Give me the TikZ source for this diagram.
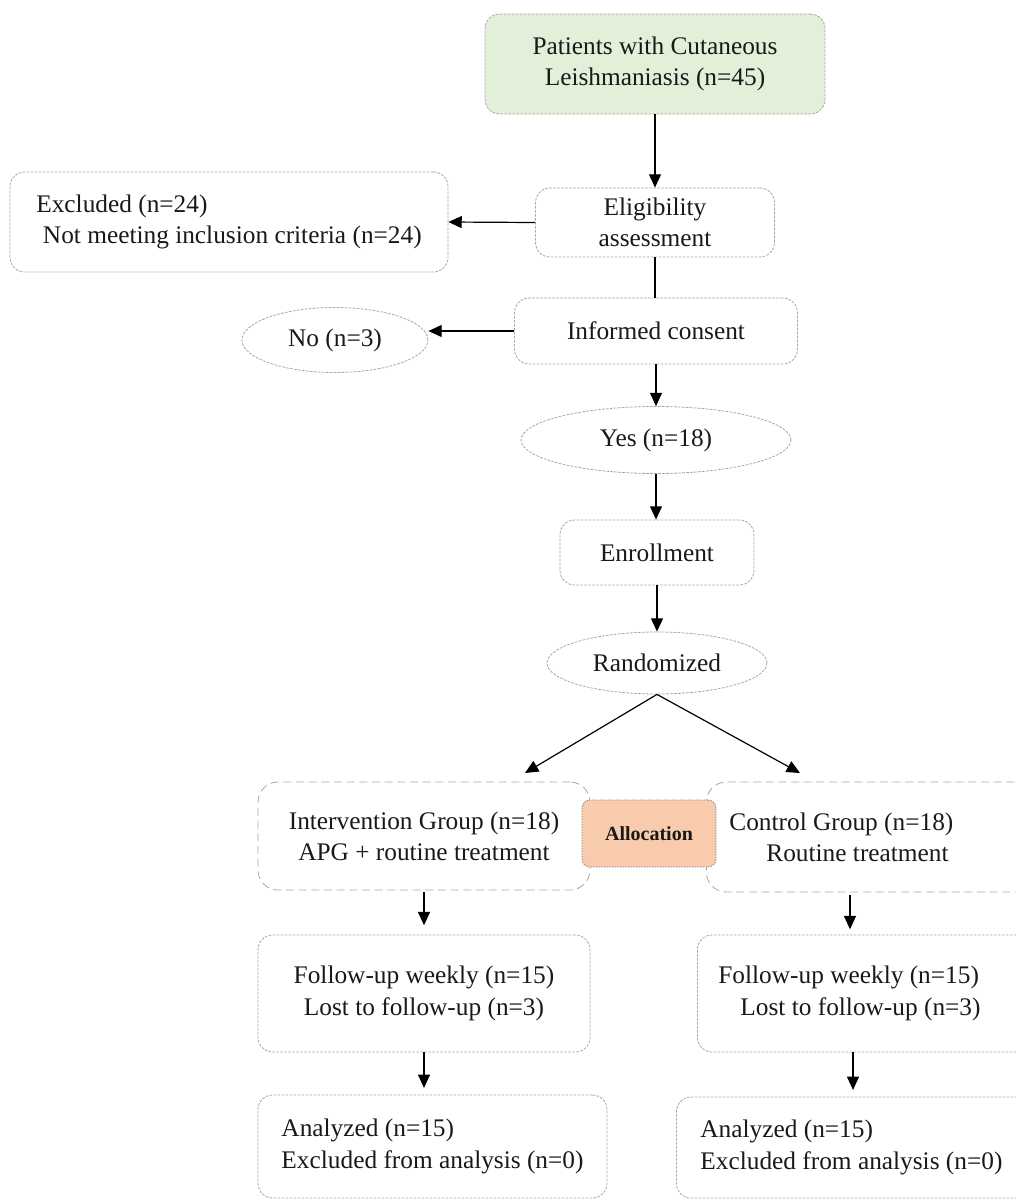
\documentclass[tikz,border=0pt]{standalone}
\usepackage{fontspec}
\setmainfont{Liberation Serif}
\usetikzlibrary{shapes.geometric,arrows.meta}
\definecolor{bordergray}{HTML}{A6A6A6}
\definecolor{greenfill}{HTML}{E2EFD9}
\definecolor{peach}{HTML}{F8CBAD}
\begin{document}
\begin{tikzpicture}[x=0.75pt,y=-0.75pt,
  base/.style={draw=bordergray, line width=0.6pt, dash pattern=on 2pt off 1pt,
    font=\fontsize{19}{23.5}\selectfont, inner sep=0pt, text=black!90},
  rbox/.style={base, rectangle, rounded corners=11pt, align=center},
  lbox/.style={base, rectangle, rounded corners=11pt, align=flush left},
  ell/.style={base, ellipse, align=center},
  gbox/.style={base, rectangle, rounded corners=15pt, dash pattern=on 6pt off 3.5pt, align=center},
  arr/.style={-{Triangle[length=10pt,width=9pt]}, line width=0.9pt, black},
  ln/.style={line width=0.9pt, black}]
\useasboundingbox (0,0) rectangle (1015,1200);

% top part
\node[rbox, fill=greenfill, minimum width=255pt, minimum height=75pt] (pat) at (655,64)
  {Patients with Cutaneous\\Leishmaniasis (n=45)};
\node[rbox, minimum width=179.25pt, minimum height=51.75pt] (elig) at (655,222.5)
  {Eligibility\\assessment};
\node[lbox, minimum width=328.5pt, minimum height=75pt] (excl) at (229,222)
  {Excluded (n=24)\\\hspace*{5pt}Not meeting inclusion criteria (n=24)};
\node[rbox, minimum width=212.25pt, minimum height=49.5pt] (cons) at (656,331)
  {Informed consent};
\node[ell, minimum width=139.5pt, minimum height=48.75pt] (no) at (335,340) {No (n=3)};
\node[ell, minimum width=202.5pt, minimum height=50.25pt] (yes) at (656,440) {Yes (n=18)};
\node[rbox, minimum width=145.5pt, minimum height=48.75pt] (enr) at (657,552.5) {Enrollment};
\node[ell, minimum width=165pt, minimum height=46.5pt] (rand) at (657,663) {Randomized};

% allocation groups
\node[gbox, minimum width=249pt, minimum height=81pt] (int) at (424,836)
  {Intervention Group (n=18)\\APG + routine treatment};
\node[gbox, align=flush left, text width=240pt, inner xsep=17.25pt, minimum height=82.5pt,
  anchor=west] (ctl) at (706,837)
  {Control Group (n=18)\\\hspace*{27.75pt}Routine treatment};
\node[base, rectangle, rounded corners=6pt, fill=peach, draw=black!50, dash pattern=on 1pt off 1pt,
  minimum width=100.5pt, minimum height=50.25pt,
  font=\fontsize{15}{18}\selectfont\bfseries] (alloc) at (649,833.5) {Allocation};

% follow-up
\node[rbox, minimum width=249pt, minimum height=87.75pt] (fl) at (424,993.5)
  {Follow-up weekly (n=15)\\Lost to follow-up (n=3)};
\node[lbox, text width=240pt, inner xsep=15.75pt, minimum height=87.75pt, anchor=west] (fr)
  at (697,993.5)
  {Follow-up weekly (n=15)\\\hspace*{16.5pt}Lost to follow-up (n=3)};

% analysis
\node[lbox, minimum width=261.75pt, minimum height=77.25pt] (al) at (432.5,1146.5)
  {Analyzed (n=15)\\Excluded from analysis (n=0)};
\node[lbox, text width=240pt, inner xsep=18pt, minimum height=75.75pt, anchor=west] (ar)
  at (676,1147.5)
  {Analyzed (n=15)\\Excluded from analysis (n=0)};

% helper coordinates
\coordinate (ia) at (525,773);
\coordinate (ca) at (800,773);
\coordinate (cx) at (850,0);
\coordinate (cx2) at (853,0);

% connectors
\draw[arr] (pat.south) -- (pat.south |- elig.north);
\draw[arr] (elig.west) -- (excl.east);
\draw[ln] (elig.south) -- (elig.south |- cons.north);
\draw[arr] (cons.west) -- (cons.west -| no.east);
\draw[arr] (cons.south) -- (cons.south |- yes.north);
\draw[arr] (yes.south) -- (yes.south |- enr.north);
\draw[arr] (enr.south) -- (rand.north);
\draw[arr] (rand.south) -- (ia);
\draw[arr] (rand.south) -- (ca);
\draw[arr, shorten <=1.5pt, shorten >=7pt] (int.south) -- (fl.north);
\draw[arr, shorten <=2pt, shorten >=4pt] (ctl.south -| cx) -- (fr.north -| cx);
\draw[arr, shorten >=5pt] (fl.south) -- (fl.south |- al.north);
\draw[arr, shorten >=5pt] (fr.south -| cx2) -- (ar.north -| cx2);
\end{tikzpicture}
\end{document}
